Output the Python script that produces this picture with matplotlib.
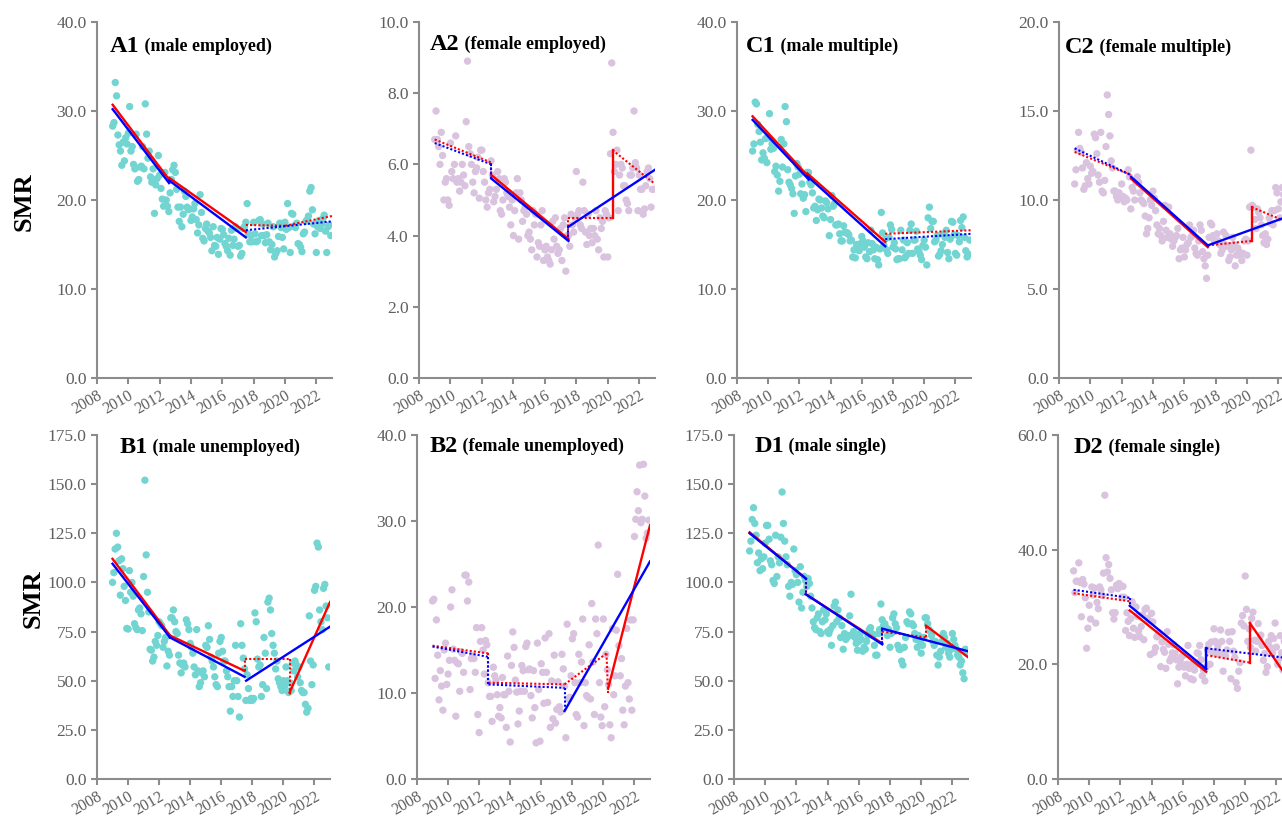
import matplotlib
matplotlib.use("Agg")
import matplotlib.pyplot as plt
import numpy as np

plt.rcParams["font.family"] = ["Liberation Serif", "DejaVu Serif"]

# monthly SMR, Jan 2009 .. Dec 2022 (one row per year)
a1_smr = [
    28.3, 28.7, 33.2, 31.7, 27.3, 26.2, 25.5, 23.9, 26.5, 24.4, 27.0, 26.3,
    27.5, 30.5, 25.5, 26.0, 24.0, 23.5, 27.4, 22.1, 22.3, 23.7, 23.8, 26.0,
    23.5, 30.8, 27.4, 24.7, 25.5, 22.6, 22.0, 23.5, 18.5, 21.7, 22.4, 25.0,
    22.8, 21.3, 20.1, 19.3, 23.1, 20.0, 19.3, 18.7, 20.8, 22.3, 23.4, 23.9,
    23.1, 21.2, 19.2, 17.6, 19.2, 17.0, 18.4, 21.0, 20.4, 19.2, 18.9, 19.0,
    17.7, 18.1, 19.0, 19.6, 17.8, 16.3, 17.2, 20.6, 18.6, 15.7, 15.4, 16.8,
    17.3, 16.5, 16.3, 15.8, 14.3, 17.0, 14.9, 14.8, 15.8, 13.9, 15.6, 16.8,
    16.7, 16.1, 15.1, 14.8, 14.3, 15.7, 13.8, 16.6, 14.9, 15.6, 17.0, 16.8,
    14.8, 14.9, 13.7, 14.0, 16.8, 17.0, 17.5, 19.6, 16.2, 15.3, 16.0, 15.3,
    17.5, 16.2, 15.3, 15.4, 17.7, 17.8, 16.0, 17.3, 16.0, 15.2, 16.1, 17.4,
    15.3, 14.4, 15.0, 17.0, 13.6, 14.0, 14.3, 15.9, 17.4, 16.9, 15.8, 14.5,
    17.5, 16.7, 19.6, 16.9, 14.1, 18.5, 18.4, 17.1, 16.9, 17.4, 15.1, 15.0,
    14.7, 14.2, 16.2, 16.4, 17.6, 17.8, 18.2, 21.0, 21.4, 18.9, 17.3, 16.2,
    14.1, 17.0, 17.7, 16.8, 17.3, 17.9, 18.3, 16.5, 14.1, 17.0, 17.2, 16.0,
]
a2_smr = [
    6.7, 7.5, 6.7, 6.5, 6.0, 6.9, 6.25, 5.0, 5.5, 5.6, 5.0, 4.85,
    6.6, 5.8, 5.6, 6.0, 6.8, 5.5, 5.6, 5.25, 5.5, 6.0, 5.7, 5.4,
    7.2, 8.9, 6.5, 6.3, 6.0, 5.5, 5.2, 5.8, 5.9, 6.2, 5.05, 6.4,
    6.4, 5.8, 5.5, 5.0, 4.8, 5.2, 5.3, 6.1, 5.7, 4.95, 5.1, 5.3,
    5.8, 5.6, 4.7, 4.6, 5.0, 5.6, 5.5, 5.2, 5.1, 4.8, 4.3, 5.0,
    4.0, 4.7, 5.2, 5.6, 3.9, 5.2, 5.0, 4.4, 4.7, 4.8, 4.6, 4.0,
    4.1, 3.9, 3.6, 4.7, 4.3, 4.6, 3.4, 3.8, 3.7, 4.3, 4.7, 3.3,
    3.6, 3.7, 3.4, 3.3, 3.2, 3.6, 4.4, 3.9, 4.5, 3.7, 3.5, 3.6,
    4.2, 3.3, 4.3, 4.5, 3.0, 4.0, 4.0, 3.7, 4.6, 4.3, 4.1, 4.5,
    5.8, 4.6, 4.7, 4.3, 4.2, 5.5, 4.7, 4.1, 3.75, 4.6, 4.0, 4.2,
    3.8, 4.2, 4.0, 4.7, 3.9, 3.6, 4.5, 4.2, 4.4, 3.4, 4.7, 4.6,
    3.4, 4.5, 6.3, 8.85, 6.9, 5.8, 6.0, 6.4, 4.7, 5.7, 6.0, 5.9,
    5.4, 5.4, 5.0, 4.9, 4.7, 5.7, 5.7, 5.9, 7.5, 6.05, 5.9, 4.7,
    5.7, 5.3, 5.3, 4.6, 4.75, 5.4, 5.8, 5.9, 5.6, 4.8, 5.3, 5.3,
]
c1_smr = [
    25.5, 26.3, 31.0, 30.8, 28.5, 27.7, 26.5, 24.5, 25.3, 24.7, 26.9, 24.2,
    27.0, 29.7, 25.7, 26.3, 25.8, 23.2, 23.8, 22.8, 21.0, 22.1, 26.8, 23.7,
    26.3, 30.5, 28.8, 23.4, 22.0, 21.7, 21.3, 20.7, 18.5, 22.7, 24.1, 23.7,
    22.9, 20.7, 21.8, 20.2, 20.6, 18.7, 23.1, 23.1, 22.0, 21.7, 20.8, 19.1,
    19.3, 17.7, 18.9, 20.1, 20.0, 19.1, 18.2, 18.0, 19.9, 19.7, 19.0, 16.0,
    17.8, 20.5, 19.3, 19.6, 17.2, 17.2, 17.3, 16.2, 15.4, 15.4, 17.1, 16.4,
    16.3, 16.3, 16.1, 15.4, 15.5, 13.6, 14.4, 13.5, 15.0, 14.4, 14.3, 15.1,
    15.9, 15.4, 14.7, 13.6, 13.4, 15.2, 14.2, 16.6, 15.1, 14.4, 13.4, 14.7,
    13.3, 12.7, 14.5, 18.6, 16.3, 14.9, 15.6, 14.4, 14.0, 15.8, 17.2, 16.7,
    14.7, 15.2, 14.5, 13.3, 13.4, 13.4, 16.6, 14.4, 15.5, 13.5, 13.7, 15.2,
    14.0, 16.6, 17.3, 14.0, 15.5, 15.5, 16.5, 14.5, 14.2, 13.8, 13.3, 14.9,
    15.5, 14.7, 12.7, 18.0, 19.2, 16.8, 17.6, 17.6, 15.3, 15.5, 16.0, 13.7,
    13.9, 14.3, 15.0, 16.2, 15.8, 16.6, 14.1, 13.4, 15.6, 17.6, 17.5, 16.1,
    14.0, 13.8, 16.0, 15.3, 17.7, 16.9, 18.1, 15.8, 14.3, 13.6, 13.9, 15.5,
]
c2_smr = [
    10.9, 11.7, 12.8, 13.8, 12.9, 12.7, 11.8, 10.6, 10.8, 12.1, 11.2, 10.9,
    11.9, 11.5, 11.6, 13.7, 13.5, 12.6, 11.4, 11.0, 13.8, 10.5, 10.4, 11.1,
    13.0, 15.9, 14.8, 13.6, 12.2, 11.8, 10.5, 10.5, 10.2, 10.0, 10.4, 10.2,
    10.9, 10.2, 9.9, 10.1, 10.0, 11.7, 11.3, 9.5, 10.7, 10.5, 10.0, 11.0,
    11.3, 11.0, 10.4, 10.0, 9.9, 9.8, 9.1, 8.1, 8.4, 9.0, 10.0, 9.7,
    10.5, 10.1, 9.4, 8.6, 8.1, 8.4, 8.0, 7.7, 8.8, 9.7, 8.3, 7.9,
    9.6, 8.1, 7.8, 7.4, 7.7, 7.9, 8.0, 8.4, 6.7, 7.2, 7.3, 7.9,
    6.8, 7.2, 7.5, 7.6, 8.6, 7.9, 8.0, 8.3, 7.3, 7.0, 6.9, 7.7,
    8.6, 8.3, 7.1, 6.7, 6.3, 5.6, 6.9, 7.9, 8.7, 8.6, 8.0, 7.7,
    7.7, 8.1, 7.7, 7.5, 7.0, 7.2, 8.2, 7.5, 8.0, 7.4, 6.6, 6.8,
    7.2, 7.9, 7.5, 6.3, 6.9, 7.3, 7.1, 6.9, 6.6, 7.0, 7.7, 7.8,
    6.9, 7.7, 9.6, 12.8, 9.7, 9.6, 8.9, 8.4, 9.5, 9.3, 9.0, 8.6,
    8.0, 7.6, 8.1, 7.5, 7.8, 9.0, 8.7, 9.4, 8.6, 9.4, 10.7, 10.4,
    9.5, 9.0, 9.9, 10.7, 10.3, 9.8, 9.4, 10.0, 11.0, 10.6, 9.8, 10.2,
]
b1_smr = [
    100, 105, 117, 125, 118, 111, 93.5, 112, 107, 98, 90.8, 76.6,
    76.3, 106, 95, 100, 93, 79, 77, 76, 86, 87, 84, 75.5,
    103, 152, 114, 95, 85, 66, 65.5, 60, 62, 70, 68, 73,
    80, 79, 78, 67, 70, 72, 57.5, 65, 63, 82, 82, 86,
    80, 75, 74, 63, 59, 54, 58, 59, 57, 81, 79, 76,
    69, 67, 64, 57, 53, 76, 55, 47, 49, 54, 55, 52,
    68, 67, 78, 71, 62, 60, 57, 52, 48, 47, 64, 70,
    72, 65, 60, 60, 55, 52, 47, 34.5, 47, 42, 50, 68,
    50, 42, 31.5, 79, 68, 61.5, 56, 40, 53, 46, 40, 41,
    40, 41, 84.5, 80, 61, 57, 58, 42, 48, 72, 64, 46,
    90, 92, 86, 74, 68, 64, 56, 60, 51, 49, 47, 45,
    50, 47, 57, 50, 44, 49, 45, 59, 55, 60, 58, 52,
    57, 49, 45, 44, 44, 38, 34, 36, 83, 60, 48, 58,
    96, 98, 120, 118, 86, 80, 76, 97, 99, 88, 82, 57,
]
b2_smr = [
    20.7, 20.9, 11.7, 18.5, 14.4, 9.2, 12.6, 10.8, 8.0, 15.0, 15.8, 11.0,
    12.2, 13.8, 20.0, 22.0, 15.1, 13.8, 7.3, 13.5, 13.4, 10.2, 14.8, 14.6,
    12.4, 23.7, 23.7, 20.7, 22.9, 10.4, 14.0, 14.3, 14.0, 12.4, 17.6, 7.5,
    5.4, 16.0, 17.6, 15.0, 12.2, 16.1, 15.6, 11.2, 9.6, 9.6, 6.7, 13.0,
    12.0, 11.5, 9.8, 7.3, 8.3, 7.1, 11.8, 9.8, 9.8, 6.0, 14.3, 10.2,
    4.3, 13.2, 17.1, 15.3, 11.5, 10.1, 6.4, 7.9, 10.2, 13.2, 12.6, 10.2,
    15.4, 15.8, 12.7, 12.8, 9.7, 7.1, 12.6, 8.3, 4.2, 15.8, 10.4, 4.4,
    13.4, 12.4, 8.8, 16.4, 12.4, 8.9, 16.9, 6.0, 11.4, 7.0, 14.4, 6.5,
    8.1, 11.3, 8.4, 7.8, 14.5, 12.8, 10.8, 4.8, 18.0, 9.3, 9.5, 12.0,
    16.3, 16.9, 11.2, 7.5, 7.2, 14.5, 11.2, 13.6, 18.6, 6.2, 11.2, 9.7,
    9.5, 15.6, 9.3, 20.4, 13.6, 7.5, 18.6, 16.9, 27.2, 11.2, 7.2, 6.2,
    18.6, 8.4, 14.5, 12.7, 11.0, 6.3, 4.8, 17.5, 9.8, 12.0, 17.3, 23.8,
    15.5, 12.0, 14.0, 8.0, 6.3, 10.8, 17.5, 11.2, 9.3, 18.5, 8.0, 18.5,
    28.2, 30.2, 33.4, 31.2, 36.5, 29.8, 30.2, 36.6, 32.9, 28.0, 28.6, 30.1,
]
d1_smr = [
    116, 121, 132, 138, 130, 124, 110, 115, 106, 112, 107, 113,
    120, 129, 129, 122, 111, 109, 101, 99.5, 124, 103, 113, 110,
    123, 146, 130, 121, 113, 109, 98, 93, 100, 99, 117, 106,
    104, 100, 90, 108, 87, 95, 103, 101, 98, 102, 99.5, 93,
    87, 80, 77, 76, 82, 84, 75, 74, 80, 86, 81, 84,
    75, 74, 76, 68, 78, 88, 90, 80, 86, 82, 72, 78,
    66, 74, 71, 72, 73, 83, 94, 73, 75, 72, 69, 65.5,
    70, 74, 71, 65, 67, 66, 70, 73, 76, 77, 74, 73,
    68, 63, 63, 74, 76, 89, 81, 78, 79, 77, 73, 76,
    67, 74, 82, 84, 79, 77, 68, 66, 66, 60, 58, 67,
    72, 80, 79, 85, 84, 79, 78, 74, 71, 67, 73, 70,
    64, 68, 72, 82, 82, 79, 76, 75, 73, 70, 68, 70,
    63, 58, 62, 65, 70, 74, 72, 67, 69, 64, 62, 66,
    74, 71, 68, 66, 63, 62, 58, 60, 54, 51, 66, 64,
]
d2_smr = [
    36.3, 32.5, 34.5, 34.5, 37.7, 34.3, 28.3, 34.8, 34.0, 31.6, 22.8, 26.3,
    30.3, 27.9, 33.5, 32.1, 33.3, 27.2, 30.8, 29.7, 33.5, 33.0, 32.0, 35.9,
    49.5, 38.6, 36.1, 37.4, 35.0, 33.0, 29.0, 27.9, 29.0, 33.8, 33.2, 34.1,
    33.6, 31.7, 33.6, 31.7, 25.9, 29.0, 27.5, 25.0, 28.0, 30.9, 26.3, 24.7,
    30.0, 28.4, 25.8, 24.8, 26.6, 28.6, 24.3, 29.6, 29.8, 28.0, 27.6, 21.7,
    28.9, 27.4, 22.1, 22.9, 24.8, 25.2, 25.5, 19.6, 23.9, 22.6, 22.1, 19.3,
    25.7, 23.5, 20.6, 21.1, 22.0, 23.4, 21.9, 20.8, 16.6, 19.5, 20.5, 21.3,
    21.5, 19.5, 18.0, 20.0, 23.3, 19.3, 17.5, 20.0, 17.3, 19.0, 20.0, 22.0,
    21.9, 23.3, 20.8, 18.0, 19.0, 17.1, 19.5, 22.5, 23.5, 20.0, 23.9, 22.0,
    26.2, 24.0, 22.4, 23.2, 21.7, 26.0, 24.0, 18.8, 22.0, 21.5, 22.5, 25.6,
    24.0, 17.5, 25.7, 22.3, 21.2, 16.8, 15.8, 18.8, 20.3, 27.2, 28.5, 26.7,
    35.4, 29.6, 24.0, 26.2, 23.0, 28.0, 29.1, 24.2, 22.3, 24.0, 27.1, 24.4,
    25.1, 23.3, 20.7, 21.9, 18.6, 19.6, 24.0, 23.0, 25.0, 22.0, 24.5, 27.2,
    23.0, 20.0, 21.0, 25.0, 22.0, 19.0, 24.0, 26.0, 22.0, 23.0, 21.0, 20.0,
]

# fitted joinpoint segments: (significant, x0, y0, x1, y1)
a1_red = [(1, 2009.0, 30.7, 2012.6, 22.3), (1, 2012.6, 22.5, 2017.5, 16.4),
          (0, 2017.5, 17.2, 2020.0, 17.1), (0, 2020.0, 17.1, 2023.0, 18.2)]
a1_blue = [(1, 2009.0, 30.2, 2012.6, 21.9), (1, 2012.6, 22.2, 2017.5, 15.8),
           (0, 2017.5, 16.6, 2023.0, 17.6)]
a2_red = [(0, 2009.0, 6.7, 2012.6, 6.05), (0, 2012.6, 6.05, 2012.6, 5.7),
          (1, 2012.6, 5.7, 2017.5, 3.9), (0, 2017.5, 3.9, 2017.5, 4.5),
          (0, 2017.5, 4.5, 2020.3, 4.5), (1, 2020.3, 4.5, 2020.3, 6.4),
          (0, 2020.3, 6.4, 2023.0, 5.45)]
a2_blue = [(0, 2009.0, 6.6, 2012.6, 6.0), (0, 2012.6, 6.0, 2012.6, 5.6),
           (1, 2012.6, 5.6, 2017.5, 3.85), (0, 2017.5, 3.85, 2017.5, 4.25),
           (1, 2017.5, 4.25, 2023.0, 5.85)]
c1_red = [(1, 2009.0, 29.4, 2012.6, 22.6), (1, 2012.5, 23.0, 2017.5, 15.3),
          (0, 2017.5, 16.2, 2023.0, 16.6)]
c1_blue = [(1, 2009.0, 29.0, 2012.6, 22.3), (1, 2012.5, 22.7, 2017.5, 14.8),
           (0, 2017.5, 15.6, 2023.0, 16.2)]
c2_red = [(0, 2009.0, 12.7, 2012.6, 11.4), (1, 2012.6, 11.2, 2017.5, 7.35),
          (0, 2017.5, 7.45, 2020.3, 7.7), (1, 2020.3, 7.7, 2020.3, 9.6),
          (0, 2020.3, 9.6, 2023.0, 8.6)]
c2_blue = [(0, 2009.0, 12.9, 2012.6, 11.4), (1, 2012.6, 11.3, 2017.5, 7.45),
           (1, 2017.5, 7.45, 2023.0, 9.2)]
b1_red = [(1, 2009.0, 112, 2012.7, 73), (1, 2012.7, 73, 2017.5, 55),
          (0, 2017.5, 55, 2017.5, 61), (0, 2017.5, 61, 2020.4, 61),
          (0, 2020.4, 61, 2020.4, 42), (1, 2020.4, 44, 2023.0, 90)]
b1_blue = [(1, 2009.0, 109.5, 2012.7, 72), (1, 2012.7, 72, 2017.5, 52),
           (1, 2017.6, 50, 2023.0, 77.5)]
b2_red = [(0, 2009.0, 15.5, 2012.6, 14.6), (0, 2012.6, 14.6, 2012.6, 11.2),
          (0, 2012.6, 11.2, 2017.5, 11.0), (0, 2017.5, 11.0, 2020.2, 14.6),
          (0, 2020.2, 14.6, 2020.3, 10.0), (1, 2020.3, 10.5, 2023.0, 29.5)]
b2_blue = [(0, 2009.0, 15.4, 2012.6, 14.2), (0, 2012.6, 14.2, 2012.6, 11.0),
           (0, 2012.6, 11.0, 2017.5, 10.6), (0, 2017.5, 10.6, 2017.5, 7.7),
           (1, 2017.5, 7.9, 2023.0, 25.3)]
d1_red = [(1, 2009.0, 125.5, 2012.6, 102), (0, 2012.6, 102, 2012.6, 94),
          (1, 2012.6, 94, 2017.5, 69), (0, 2017.5, 69, 2017.5, 75),
          (0, 2017.5, 75, 2020.3, 72), (0, 2020.3, 72, 2020.3, 78),
          (1, 2020.3, 78, 2023.0, 62)]
d1_blue = [(1, 2009.0, 125, 2012.6, 102), (0, 2012.6, 102, 2012.6, 94),
           (1, 2012.6, 94, 2017.5, 68.5), (0, 2017.5, 68.5, 2017.5, 76.5),
           (1, 2017.5, 76.5, 2023.0, 65)]
d2_red = [(0, 2009.0, 32.4, 2012.6, 31.0), (1, 2012.6, 29.4, 2017.5, 18.7),
          (0, 2017.5, 21.6, 2020.3, 20.3), (1, 2020.3, 20.3, 2020.3, 27.2),
          (1, 2020.3, 27.2, 2023.0, 16.5)]
d2_blue = [(0, 2009.0, 33.0, 2012.6, 31.6), (0, 2012.6, 31.6, 2012.6, 30.4),
           (1, 2012.6, 30.2, 2017.5, 19.2), (1, 2017.5, 19.2, 2017.5, 22.8),
           (0, 2017.5, 22.8, 2023.0, 21.0)]

month_x = 2009 + np.arange(168) / 12.0
x_ticks = list(range(2008, 2023, 2))

MALE = "#72d5d1"
FEMALE = "#d9c3de"
W, H = 1282, 819

# label, subtitle, data, dots, ymax, ystep, red, blue,
# (left, top, right, bottom) px, title pos in axes coords
panels = [
    ("A1", "male employed", a1_smr, MALE, 40, 10, a1_red, a1_blue, (97, 22, 332, 378), (0.055, 0.915)),
    ("A2", "female employed", a2_smr, FEMALE, 10, 2, a2_red, a2_blue, (419, 22, 655, 378), (0.047, 0.922)),
    ("C1", "male multiple", c1_smr, MALE, 40, 10, c1_red, c1_blue, (737, 22, 971, 378), (0.038, 0.915)),
    ("C2", "female multiple", c2_smr, FEMALE, 20, 5, c2_red, c2_blue, (1059, 22, 1294, 378), (0.026, 0.913)),
    ("B1", "male unemployed", b1_smr, MALE, 175, 25, b1_red, b1_blue, (97, 435, 330, 779), (0.098, 0.948)),
    ("B2", "female unemployed", b2_smr, FEMALE, 40, 10, b2_red, b2_blue, (417, 435, 650, 779), (0.055, 0.952)),
    ("D1", "male single", d1_smr, MALE, 175, 25, d1_red, d1_blue, (734, 435, 968, 779), (0.089, 0.952)),
    ("D2", "female single", d2_smr, FEMALE, 60, 20, d2_red, d2_blue, (1058, 435, 1292, 779), (0.068, 0.948)),
]

fig = plt.figure(figsize=(W / 100, H / 100), dpi=100)

for label, sub, smr, dots, ymax, ystep, red, blue, box, tpos in panels:
    l, t, r, b = box
    ax = fig.add_axes([l / W, 1 - b / H, (r - l) / W, (b - t) / H])
    ax.scatter(month_x, smr, s=28, color=dots, edgecolors="none", zorder=2)
    for fit, col in ((red, "#ff0000"), (blue, "#0000ff")):
        for sig, x0, y0, x1, y1 in fit:
            if sig:
                ax.plot([x0, x1], [y0, y1], color=col, lw=1.7, zorder=3)
            else:
                ax.plot([x0, x1], [y0, y1], color=col, lw=1.5,
                        linestyle=(0, (1, 1)), zorder=3)

    ax.set_xlim(2008, 2023)
    ax.set_ylim(0, ymax)
    ax.set_xticks(x_ticks)
    ax.set_yticks(np.arange(0, ymax + ystep / 2, ystep))
    ax.yaxis.set_major_formatter(lambda v, p: f"{v:.1f}")
    ax.spines[["top", "right"]].set_visible(False)
    for s in ("left", "bottom"):
        ax.spines[s].set_color("#8c8c8c")
        ax.spines[s].set_linewidth(1.5)
    ax.tick_params(direction="out", length=4, width=1.5, color="#8c8c8c",
                   labelcolor="#5f5f5f", labelsize=12.5)
    ax.tick_params(axis="x", labelsize=11.5, pad=3)
    plt.setp(ax.get_xticklabels(), rotation=30, ha="right", rotation_mode="anchor")

    txt = ax.text(tpos[0], tpos[1], label, transform=ax.transAxes,
                  fontsize=17.5, fontweight="bold", color="black")
    ax.annotate(f" ({sub})", xy=(1, 0), xycoords=txt, xytext=(0, 1.3),
                textcoords="offset points", fontsize=13, fontweight="bold",
                va="bottom", ha="left", color="black")

fig.text(24 / W, 1 - 202 / H, "SMR", rotation=90, fontsize=19,
         fontweight="bold", ha="center", va="center")
fig.text(33 / W, 1 - 599 / H, "SMR", rotation=90, fontsize=19,
         fontweight="bold", ha="center", va="center")

fig.savefig("out.png", dpi=100)
